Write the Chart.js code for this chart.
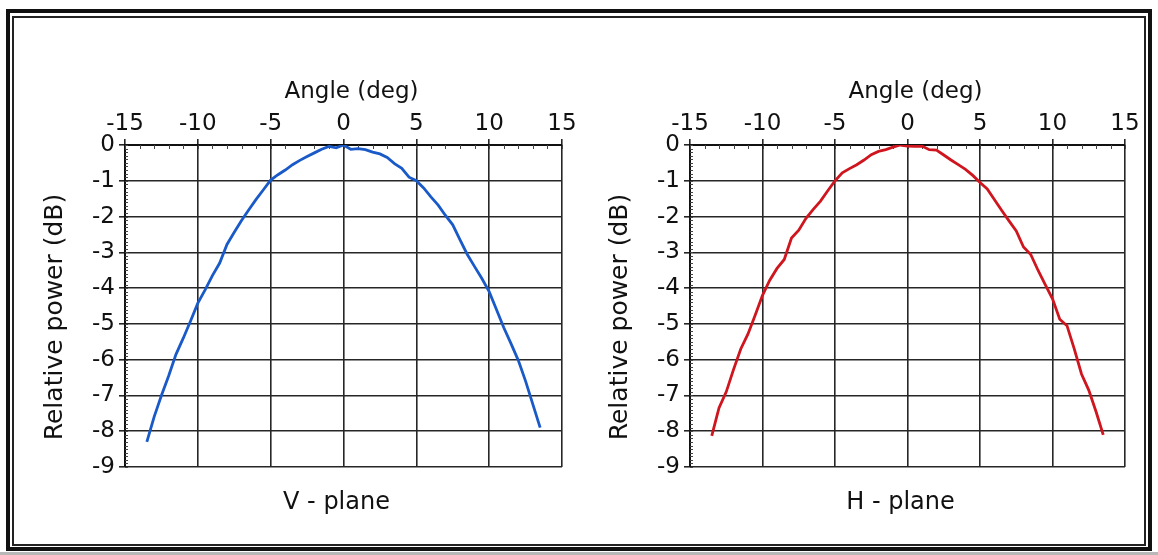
<!DOCTYPE html>
<html>
<head>
<meta charset="utf-8">
<title>Relative power vs angle — V-plane and H-plane</title>
<script src="https://cdn.jsdelivr.net/npm/chart.js@4/dist/chart.umd.min.js"></script>
<style>
  html, body { margin: 0; padding: 0; background: #fff; }
  body { width: 1158px; height: 555px; position: relative; overflow: hidden; }
  .frame-outer { position: absolute; left: 6px; top: 9px; width: 1138px; height: 534px; border: 4px solid #111; }
  .frame-inner { position: absolute; left: 12px; top: 16px; width: 1130px; height: 526px; border: 2px solid #222; }
  .scan-edge { position: absolute; left: 0; top: 552px; width: 1158px; height: 3px; background: #b8b8b8; }
  .panel { position: absolute; top: 60px; }
  .panel canvas { display: block; }
</style>
</head>
<body>
<div class="frame-outer"></div>
<div class="frame-inner"></div>
<div class="scan-edge"></div>
<div class="panel" style="left:10px"><canvas id="vPlaneChart" width="570" height="480"></canvas></div>
<div class="panel" style="left:575px"><canvas id="hPlaneChart" width="568" height="480"></canvas></div>
<script>
// Measurement angles (deg)
const angles = [
  -13.5, -13.0, -12.5, -12.0, -11.5, -11.0, -10.5, -10.0, -9.5, -9.0,
  -8.5, -8.0, -7.5, -7.0, -6.5, -6.0, -5.5, -5.0, -4.5, -4.0,
  -3.5, -3.0, -2.5, -2.0, -1.5, -1.0, -0.5, 0.0, 0.5, 1.0,
  1.5, 2.0, 2.5, 3.0, 3.5, 4.0, 4.5, 5.0, 5.5, 6.0,
  6.5, 7.0, 7.5, 8.0, 8.5, 9.0, 9.5, 10.0, 10.5, 11.0,
  11.5, 12.0, 12.5, 13.0, 13.5
];

// Relative power (dB), V-plane cut
const vPlane = [
  -8.30, -7.60, -7.00, -6.45, -5.85, -5.40, -4.92, -4.42, -4.05, -3.65,
  -3.30, -2.78, -2.44, -2.11, -1.81, -1.52, -1.25, -0.98, -0.83, -0.70,
  -0.55, -0.43, -0.32, -0.22, -0.12, -0.04, -0.08, 0.00, -0.12, -0.10,
  -0.13, -0.20, -0.25, -0.35, -0.52, -0.65, -0.90, -1.00, -1.20, -1.45,
  -1.68, -1.97, -2.23, -2.65, -3.06, -3.40, -3.73, -4.10, -4.60, -5.10,
  -5.55, -6.02, -6.60, -7.25, -7.90
];

// Relative power (dB), H-plane cut
const hPlane = [
  -8.13, -7.35, -6.90, -6.28, -5.70, -5.28, -4.75, -4.20, -3.78, -3.45,
  -3.20, -2.60, -2.38, -2.05, -1.80, -1.57, -1.28, -1.00, -0.78, -0.66,
  -0.55, -0.42, -0.27, -0.18, -0.13, -0.06, 0.00, -0.03, -0.04, -0.03,
  -0.13, -0.14, -0.28, -0.42, -0.55, -0.68, -0.85, -1.05, -1.23, -1.53,
  -1.83, -2.12, -2.40, -2.85, -3.06, -3.50, -3.90, -4.30, -4.87, -5.05,
  -5.70, -6.40, -6.85, -7.45, -8.10
];

// Axis tick values
const angleTicks = [-15, -10, -5, 0, 5, 10, 15];
const powerTicks = [0, -1, -2, -3, -4, -5, -6, -7, -8, -9];
const angleMinorStep = 1;
const powerMinorStep = 0.1;

// Caption texts
const angleTitle = 'Angle (deg)';
const powerTitle = 'Relative power (dB)';

const FONT = "'DejaVu Sans', 'Liberation Sans', Arial, sans-serif";
const INK = '#111';
const GRID = '#262626';

// Short inward minor tick marks along the top and left axes
const minorTicks = {
  id: 'minorTicks',
  beforeDatasetsDraw(chart) {
    const { ctx, chartArea, scales: { x, y } } = chart;
    ctx.save();
    ctx.strokeStyle = '#444';
    ctx.lineWidth = 1;
    ctx.beginPath();
    for (let v = x.min; v <= x.max + 1e-9; v += angleMinorStep) {
      const px = Math.round(x.getPixelForValue(v)) + 0.5;
      ctx.moveTo(px, chartArea.top);
      ctx.lineTo(px, chartArea.top + 4);
    }
    for (let i = 0; i <= Math.round((y.max - y.min) / powerMinorStep); i++) {
      const v = y.max - i * powerMinorStep;
      const py = Math.round(y.getPixelForValue(v)) + 0.5;
      ctx.moveTo(chartArea.left, py);
      ctx.lineTo(chartArea.left + 3, py);
    }
    ctx.stroke();
    ctx.restore();
  }
};

// Axis captions and the plane name, placed around the plot area
const captions = {
  id: 'captions',
  afterDraw(chart, args, opts) {
    const { ctx, chartArea: a } = chart;
    const cx = (a.left + a.right) / 2;
    const cy = (a.top + a.bottom) / 2;
    ctx.save();
    ctx.fillStyle = INK;
    ctx.textAlign = 'center';
    ctx.textBaseline = 'middle';

    ctx.font = `23px ${FONT}`;
    ctx.fillText(angleTitle, cx + 8, a.top - 53);

    ctx.font = `24px ${FONT}`;
    ctx.fillText(opts.plane, cx - 7, a.bottom + 36);

    ctx.font = `25px ${FONT}`;
    ctx.translate(a.left - 70, cy + 11);
    ctx.rotate(-Math.PI / 2);
    ctx.fillText(powerTitle, 0, 0);
    ctx.restore();
  }
};

function makeChart(canvasId, values, color, planeLabel) {
  return new Chart(document.getElementById(canvasId), {
    type: 'line',
    data: {
      datasets: [{
        data: angles.map((a, i) => ({ x: a, y: values[i] })),
        borderColor: color,
        borderWidth: 2.8,
        pointRadius: 0,
        tension: 0,
        fill: false
      }]
    },
    plugins: [minorTicks, captions],
    options: {
      responsive: false,
      animation: false,
      events: [],
      layout: { padding: { left: 0, right: 18, top: 0, bottom: 73 } },
      plugins: {
        legend: { display: false },
        tooltip: { enabled: false },
        captions: { plane: planeLabel }
      },
      scales: {
        x: {
          type: 'linear',
          position: 'top',
          min: -15,
          max: 15,
          afterBuildTicks: (s) => { s.ticks = angleTicks.map(v => ({ value: v })); },
          afterFit: (s) => { s.height = 85; },
          ticks: {
            color: INK,
            padding: 1,
            maxRotation: 0,
            font: { family: FONT, size: 23 }
          },
          grid: { color: GRID, lineWidth: 1.6, tickLength: 6 },
          border: { display: true, color: '#111', width: 2 }
        },
        y: {
          type: 'linear',
          min: -9,
          max: 0,
          afterBuildTicks: (s) => { s.ticks = powerTicks.map(v => ({ value: v })); },
          afterFit: (s) => { s.width = 115; },
          ticks: {
            color: INK,
            padding: 4,
            font: { family: FONT, size: 23 }
          },
          grid: { color: GRID, lineWidth: 1.6, tickLength: 6 },
          border: { display: true, color: '#111', width: 2 }
        }
      }
    }
  });
}

makeChart('vPlaneChart', vPlane, '#1a5ac8', 'V - plane');
makeChart('hPlaneChart', hPlane, '#cf151e', 'H - plane');
</script>
</body>
</html>
